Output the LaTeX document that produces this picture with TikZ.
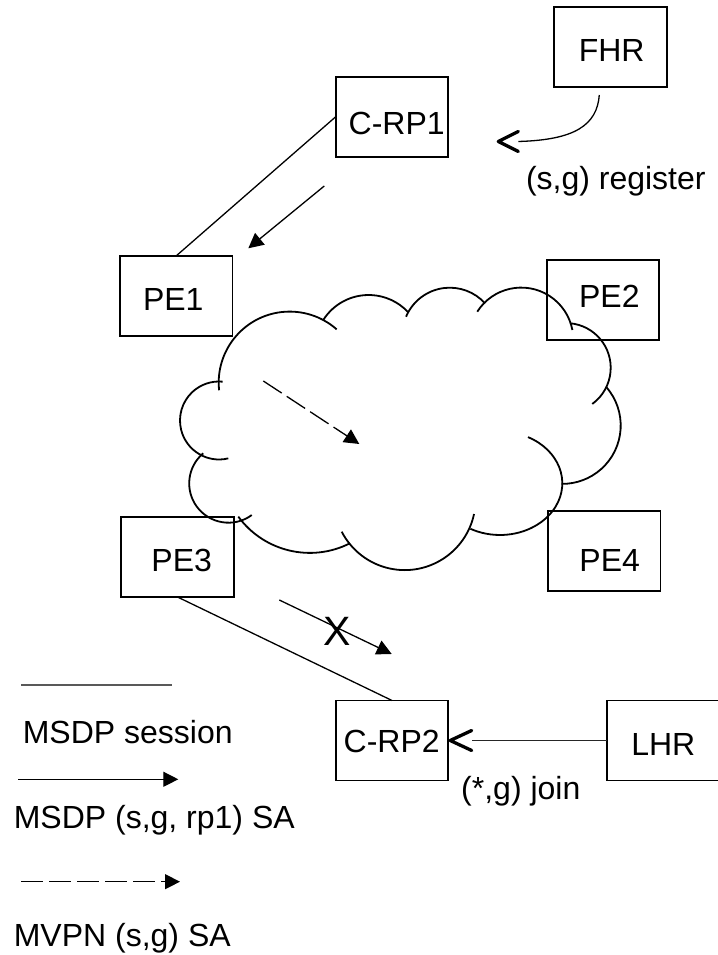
\documentclass[tikz,border=0pt]{standalone}
\usepackage{fontspec}
\setmainfont{Liberation Sans}
\usetikzlibrary{arrows.meta}
\newcommand\cloudbump[5]{\draw[cloudline] (#1,#2) ++(#3:#4) arc[start angle=#3, end angle=#5, radius=#4];}
\begin{document}
\begin{tikzpicture}[x=1pt,y=1pt,
  font=\fontsize{32pt}{38pt}\selectfont,
  box/.style={draw, line width=1.8pt, minimum width=112.4pt, minimum height=80pt, inner sep=0pt, outer sep=0pt},
  conn/.style={line width=1.3pt},
  sa/.style={conn, -{Triangle[length=15pt,width=15pt]}},
  mvpn/.style={sa, dash pattern=on 22pt off 6pt},
  cloudline/.style={line width=1.8pt},
  barb/.style={line width=3.3pt, line cap=round, line join=round},
  txt/.style={inner sep=0pt}]
\useasboundingbox (0,0) rectangle (717,955);

% boxes
\node[box, label={[xshift=1.2pt,yshift=-3.7pt]center:FHR}] (fhr) at (610.5,907.7) {};
\node[box, label={[xshift=4.7pt,yshift=-6.6pt]center:C-RP1}] (crp1) at (392,838.3) {};
\node[box, label={[xshift=-2.9pt,yshift=-4.1pt]center:PE1}] (pe1) at (176.2,659.1) {};
\node[box, label={[xshift=6.4pt,yshift=4.4pt]center:PE2}] (pe2) at (602.9,654.6) {};
\node[box, label={[xshift=4.2pt,yshift=-3pt]center:PE3}] (pe3) at (177.5,398) {};
\node[box, label={[xshift=5.5pt,yshift=-9.1pt]center:PE4}] (pe4) at (604.2,404.1) {};
\node[box, label={[xshift=-0.3pt,yshift=-1.2pt]center:C-RP2}] (crp2) at (392,214.5) {};
\node[box, label={[xshift=0.4pt,yshift=-4.3pt]center:LHR}] (lhr) at (662.9,214.5) {};

% cloud
\cloudbump{289.7}{572.4}{186.2}{71}{48.6}
\cloudbump{368.7}{606.2}{147.6}{53.8}{43.1}
\cloudbump{449.8}{619.8}{157.1}{47.5}{42.2}
\cloudbump{521.2}{615.3}{147.5}{52.1}{10.7}
\cloudbump{566.0}{587.2}{84.9}{44.7}{-54.0}
\cloudbump{562.3}{529.5}{41.6}{58.4}{-90.6}
\draw[cloudline] (500,471.7) ++(63.3:62.3 and 51.7) arc[start angle=63.3, end angle=-118.4, x radius=62.3, y radius=51.7];
\cloudbump{404.7}{455.8}{-12.1}{70.9}{-152.7}
\cloudbump{309.8}{490.7}{-63}{88.6}{-143.8}
\cloudbump{228.5}{471.6}{-53.7}{39.3}{-229.9}
\cloudbump{219.0}{534.5}{-76.2}{39.0}{-275.4}

% MSDP sessions
\draw[conn] (crp1.west) -- (pe1.north);
\draw[conn] (pe3.south) -- (crp2.north);

% SA arrows
\coordinate (saA) at (324.3,769);
\coordinate (saB) at (248.3,706.7);
\draw[sa] (saA) -- (saB);
\coordinate (mvA) at (263.3,574);
\coordinate (mvB) at (359.3,511);
\draw[mvpn] (mvA) -- (mvB);
\coordinate (xA) at (279.3,355);
\coordinate (xB) at (391.7,301);
\draw[sa] (xA) -- (xB);
\node[font=\fontsize{41pt}{48pt}\selectfont, inner sep=0pt] (xmark) at (337.3,323.3) {X};

% register
\coordinate (regA) at ([xshift=-11.2pt,yshift=-7.7pt]fhr.south);
\coordinate (regB) at (518.3,813.5);
\coordinate (regT) at (498.3,813.5);
\draw[conn] (regA) .. controls (597,830) and (575,815) .. (regB);
\draw[barb] (regT) ++(20,10) -- (regT) -- ++(20,-10);
\node[txt] (reglbl) at (615.8,774) {(s,g) register};

% join
\coordinate (jT) at ([xshift=2pt]crp2.east);
\draw[line width=1.6pt, draw=black!85] (lhr.west) -- ([xshift=21.5pt]jT);
\draw[barb] (jT) ++(21.5,10) -- (jT) -- ++(21.5,-10);
\node[txt] (joinlbl) at (520.8,164) {(*,g) join};

% legend
\coordinate (l1a) at (21,270);
\coordinate (l1b) at (171.7,270);
\draw[line width=1.8pt, draw=black!65] (l1a) -- (l1b);
\node[txt, anchor=west] (l1t) at (22.6,222.7) {MSDP session};
\coordinate (l2a) at (18.3,175.7);
\coordinate (l2b) at (178.3,175.7);
\draw[sa] (l2a) -- (l2b);
\node[txt, anchor=west] (l2t) at (13.6,135) {MSDP (s,g, rp1) SA};
\coordinate (l3a) at (21,73.3);
\coordinate (l3b) at (180,73.3);
\draw[mvpn] (l3a) -- (l3b);
\node[txt, anchor=west] (l3t) at (13.6,16.7) {MVPN (s,g) SA};
\end{tikzpicture}
\end{document}
